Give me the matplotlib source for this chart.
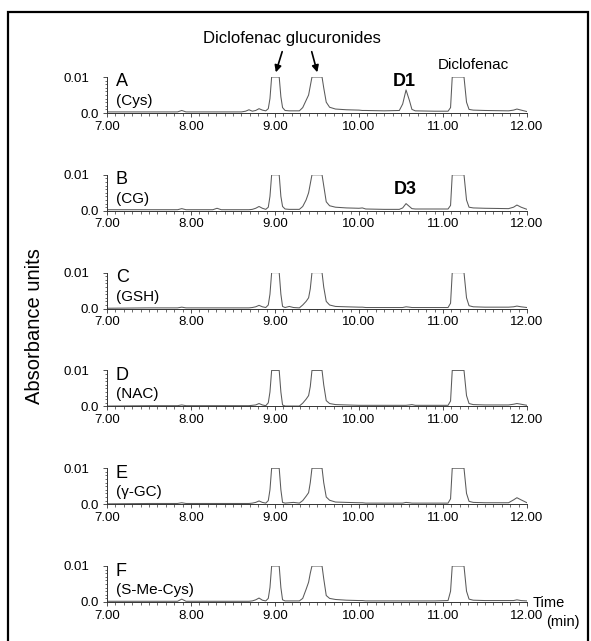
import numpy as np
import matplotlib
matplotlib.use("Agg")
import matplotlib.pyplot as plt
from matplotlib.ticker import MultipleLocator
from matplotlib.patches import Rectangle, FancyArrowPatch

plt.rcParams['font.family'] = ['Liberation Sans', 'DejaVu Sans']

W, H = 591, 641

# retention time grid (min), shared by all traces
time_min = [7.00, 7.50, 7.84, 7.89, 7.94, 8.10, 8.26, 8.31, 8.36, 8.60,
            8.65, 8.69, 8.73, 8.77, 8.81, 8.85, 8.89, 8.92, 8.94, 8.96,
            8.98, 9.03, 9.05, 9.07, 9.09, 9.12, 9.17, 9.22, 9.29, 9.33,
            9.37, 9.40, 9.42, 9.44, 9.56, 9.58, 9.61, 9.65, 9.72, 9.85,
            10.00, 10.04, 10.08, 10.30, 10.48, 10.52, 10.56, 10.60, 10.63, 10.67,
            10.90, 11.06, 11.09, 11.11, 11.25, 11.28, 11.31, 11.36, 11.50, 11.78,
            11.84, 11.88, 11.93, 12.00]

# absorbance, in units of 0.001 AU (off-scale peaks read at the 0.01 ceiling)
abs_cys = [0.3, 0.3, 0.3, 0.7, 0.3, 0.3, 0.3, 0.3, 0.3, 0.3,
           0.5, 0.9, 0.5, 0.7, 1.2, 0.8, 0.6, 1.2, 4.0, 10,
           10, 10, 10, 4.5, 1.5, 0.7, 0.6, 0.6, 0.6, 1.5,
           3.5, 5.0, 7.5, 10, 10, 7.0, 3.0, 1.6, 1.1, 0.9,
           0.8, 0.7, 0.7, 0.6, 0.7, 2.5, 6.4, 3.5, 1.0, 0.6,
           0.5, 0.5, 1.5, 10, 10, 3.0, 1.0, 0.8, 0.7, 0.6,
           0.8, 1.1, 0.8, 0.4]
abs_cg = [0.3, 0.3, 0.3, 0.6, 0.3, 0.3, 0.3, 0.7, 0.3, 0.3,
          0.3, 0.3, 0.4, 0.7, 1.2, 0.7, 0.4, 1.0, 4.0, 10,
          10, 10, 10, 4.0, 1.2, 0.5, 0.4, 0.4, 0.4, 1.2,
          3.0, 5.0, 7.5, 10, 10, 7.0, 2.5, 1.4, 1.0, 0.8,
          0.7, 0.8, 0.5, 0.4, 0.4, 0.8, 2.0, 1.2, 0.6, 0.5,
          0.5, 0.5, 1.5, 10, 10, 3.0, 1.0, 0.8, 0.7, 0.6,
          1.0, 1.6, 1.0, 0.4]
abs_gsh = [0.1, 0.2, 0.2, 0.4, 0.2, 0.2, 0.2, 0.2, 0.2, 0.2,
           0.2, 0.2, 0.3, 0.5, 0.9, 0.5, 0.3, 1.0, 4.0, 10,
           10, 10, 10, 4.0, 0.6, 0.3, 0.6, 0.3, 0.2, 1.0,
           2.0, 3.0, 5.5, 10, 10, 6.0, 2.0, 1.0, 0.6, 0.5,
           0.4, 0.4, 0.3, 0.3, 0.3, 0.3, 0.5, 0.4, 0.3, 0.3,
           0.3, 0.3, 1.5, 10, 10, 3.0, 0.8, 0.5, 0.4, 0.4,
           0.5, 0.7, 0.5, 0.3]
abs_nac = [0.1, 0.2, 0.2, 0.4, 0.2, 0.2, 0.2, 0.2, 0.2, 0.2,
           0.2, 0.2, 0.3, 0.4, 0.8, 0.4, 0.2, 1.0, 4.0, 10,
           10, 10, 10, 4.0, 0.4, 0.1, 0.1, 0.1, 0.1, 0.9,
           2.0, 3.0, 5.5, 10, 10, 6.0, 1.6, 0.8, 0.5, 0.4,
           0.3, 0.3, 0.3, 0.3, 0.3, 0.3, 0.3, 0.4, 0.5, 0.3,
           0.3, 0.3, 1.5, 10, 10, 3.0, 0.8, 0.5, 0.4, 0.4,
           0.6, 0.8, 0.6, 0.3]
abs_ggc = [0.1, 0.2, 0.2, 0.4, 0.2, 0.2, 0.2, 0.2, 0.2, 0.2,
           0.2, 0.2, 0.3, 0.5, 0.9, 0.5, 0.3, 1.0, 4.0, 10,
           10, 10, 10, 4.0, 0.5, 0.3, 0.4, 0.5, 0.3, 1.0,
           2.2, 3.2, 6.0, 10, 10, 6.0, 2.0, 1.1, 0.6, 0.5,
           0.4, 0.4, 0.3, 0.3, 0.3, 0.3, 0.5, 0.4, 0.3, 0.3,
           0.3, 0.3, 1.5, 10, 10, 3.0, 0.8, 0.5, 0.4, 0.4,
           1.2, 1.8, 1.2, 0.4]
abs_smecys = [0.2, 0.2, 0.2, 0.8, 0.2, 0.2, 0.2, 0.2, 0.2, 0.2,
              0.2, 0.2, 0.3, 0.6, 1.1, 0.5, 0.3, 1.0, 4.0, 10,
              10, 10, 10, 4.0, 0.6, 0.3, 0.3, 0.3, 0.3, 1.0,
              3.5, 5.5, 8.0, 10, 10, 6.5, 1.8, 1.0, 0.7, 0.5,
              0.4, 0.4, 0.3, 0.3, 0.3, 0.3, 0.3, 0.3, 0.3, 0.3,
              0.3, 0.4, 3.0, 10, 10, 3.0, 0.8, 0.5, 0.4, 0.4,
              0.4, 0.6, 0.4, 0.3]

panel_letters = ['A', 'B', 'C', 'D', 'E', 'F']
panel_names = ['(Cys)', '(CG)', '(GSH)', '(NAC)', '(\u03b3-GC)', '(S-Me-Cys)']
traces = [abs_cys, abs_cg, abs_gsh, abs_nac, abs_ggc, abs_smecys]
xticks = [7, 8, 9, 10, 11, 12]
xticklabels = ['7.00', '8.00', '9.00', '10.00', '11.00', '12.00']


def fx(x):
    return x / W


def fy(y):
    return 1 - y / H


fig = plt.figure(figsize=(W / 100, H / 100), dpi=100)

# outer frame
fig.patches.append(Rectangle((fx(8), fy(660)), fx(580), (660 - 12) / H,
                             transform=fig.transFigure, fill=False,
                             edgecolor='black', linewidth=1.6))

left, right = 107, 527
t = np.array(time_min)
for i in range(6):
    base = 113 + 97.8 * i
    ax = fig.add_axes([fx(left), fy(base), (right - left) / W, 36 / H])
    ax.patch.set_visible(False)
    ax.plot(t, np.array(traces[i]) * 1e-3, color='#5a5a5a', lw=0.75)
    ax.set_xlim(7, 12)
    ax.set_ylim(0, 0.01)
    for s in ['top', 'right']:
        ax.spines[s].set_visible(False)
    for s in ['left', 'bottom']:
        ax.spines[s].set_linewidth(0.7)
        ax.spines[s].set_color('#333333')
    ax.set_xticks(xticks, xticklabels)
    ax.xaxis.set_minor_locator(MultipleLocator(0.1))
    ax.set_yticks([0, 0.01], ['0.0', '0.01'])
    ax.yaxis.set_minor_locator(MultipleLocator(0.001))
    ax.tick_params(axis='x', which='major', length=3, width=0.6, pad=2.5,
                   labelsize=9.5, color='#333333')
    ax.tick_params(axis='x', which='minor', length=2, width=0.5, color='#333333')
    ax.tick_params(axis='y', which='major', length=3, width=0.6, pad=2.5,
                   labelsize=9.5, color='#333333')
    ax.tick_params(axis='y', which='minor', length=1.8, width=0.5, color='#333333')
    ax.yaxis.get_major_ticks()[1].set_pad(9.5)
    fig.text(fx(116), fy(base - 31), panel_letters[i], fontsize=13,
             va='center', ha='left')
    fig.text(fx(116), fy(base - 12), panel_names[i], fontsize=11,
             va='center', ha='left')

# annotations
fig.text(fx(292), fy(38), 'Diclofenac glucuronides', fontsize=12,
         ha='center', va='center')
fig.add_artist(FancyArrowPatch(
    (fx(283), fy(49)), (fx(275), fy(75)), transform=fig.transFigure,
    arrowstyle='-|>', mutation_scale=10, lw=1.2, color='black'))
fig.add_artist(FancyArrowPatch(
    (fx(311), fy(49)), (fx(318), fy(75)), transform=fig.transFigure,
    arrowstyle='-|>', mutation_scale=10, lw=1.2, color='black'))
fig.text(fx(473), fy(65), 'Diclofenac', fontsize=11, ha='center', va='center')
fig.text(fx(404), fy(81), 'D1', fontsize=13, fontweight='bold',
         ha='center', va='center')
fig.text(fx(405), fy(189), 'D3', fontsize=13, fontweight='bold',
         ha='center', va='center')
fig.text(fx(35), fy(326), 'Absorbance units', fontsize=14.5, rotation=90,
         ha='center', va='center')
fig.text(fx(533), fy(603), 'Time', fontsize=10.5, ha='left', va='center')
fig.text(fx(546), fy(622), '(min)', fontsize=10.5, ha='left', va='center')

fig.savefig('out.png', dpi=100)
